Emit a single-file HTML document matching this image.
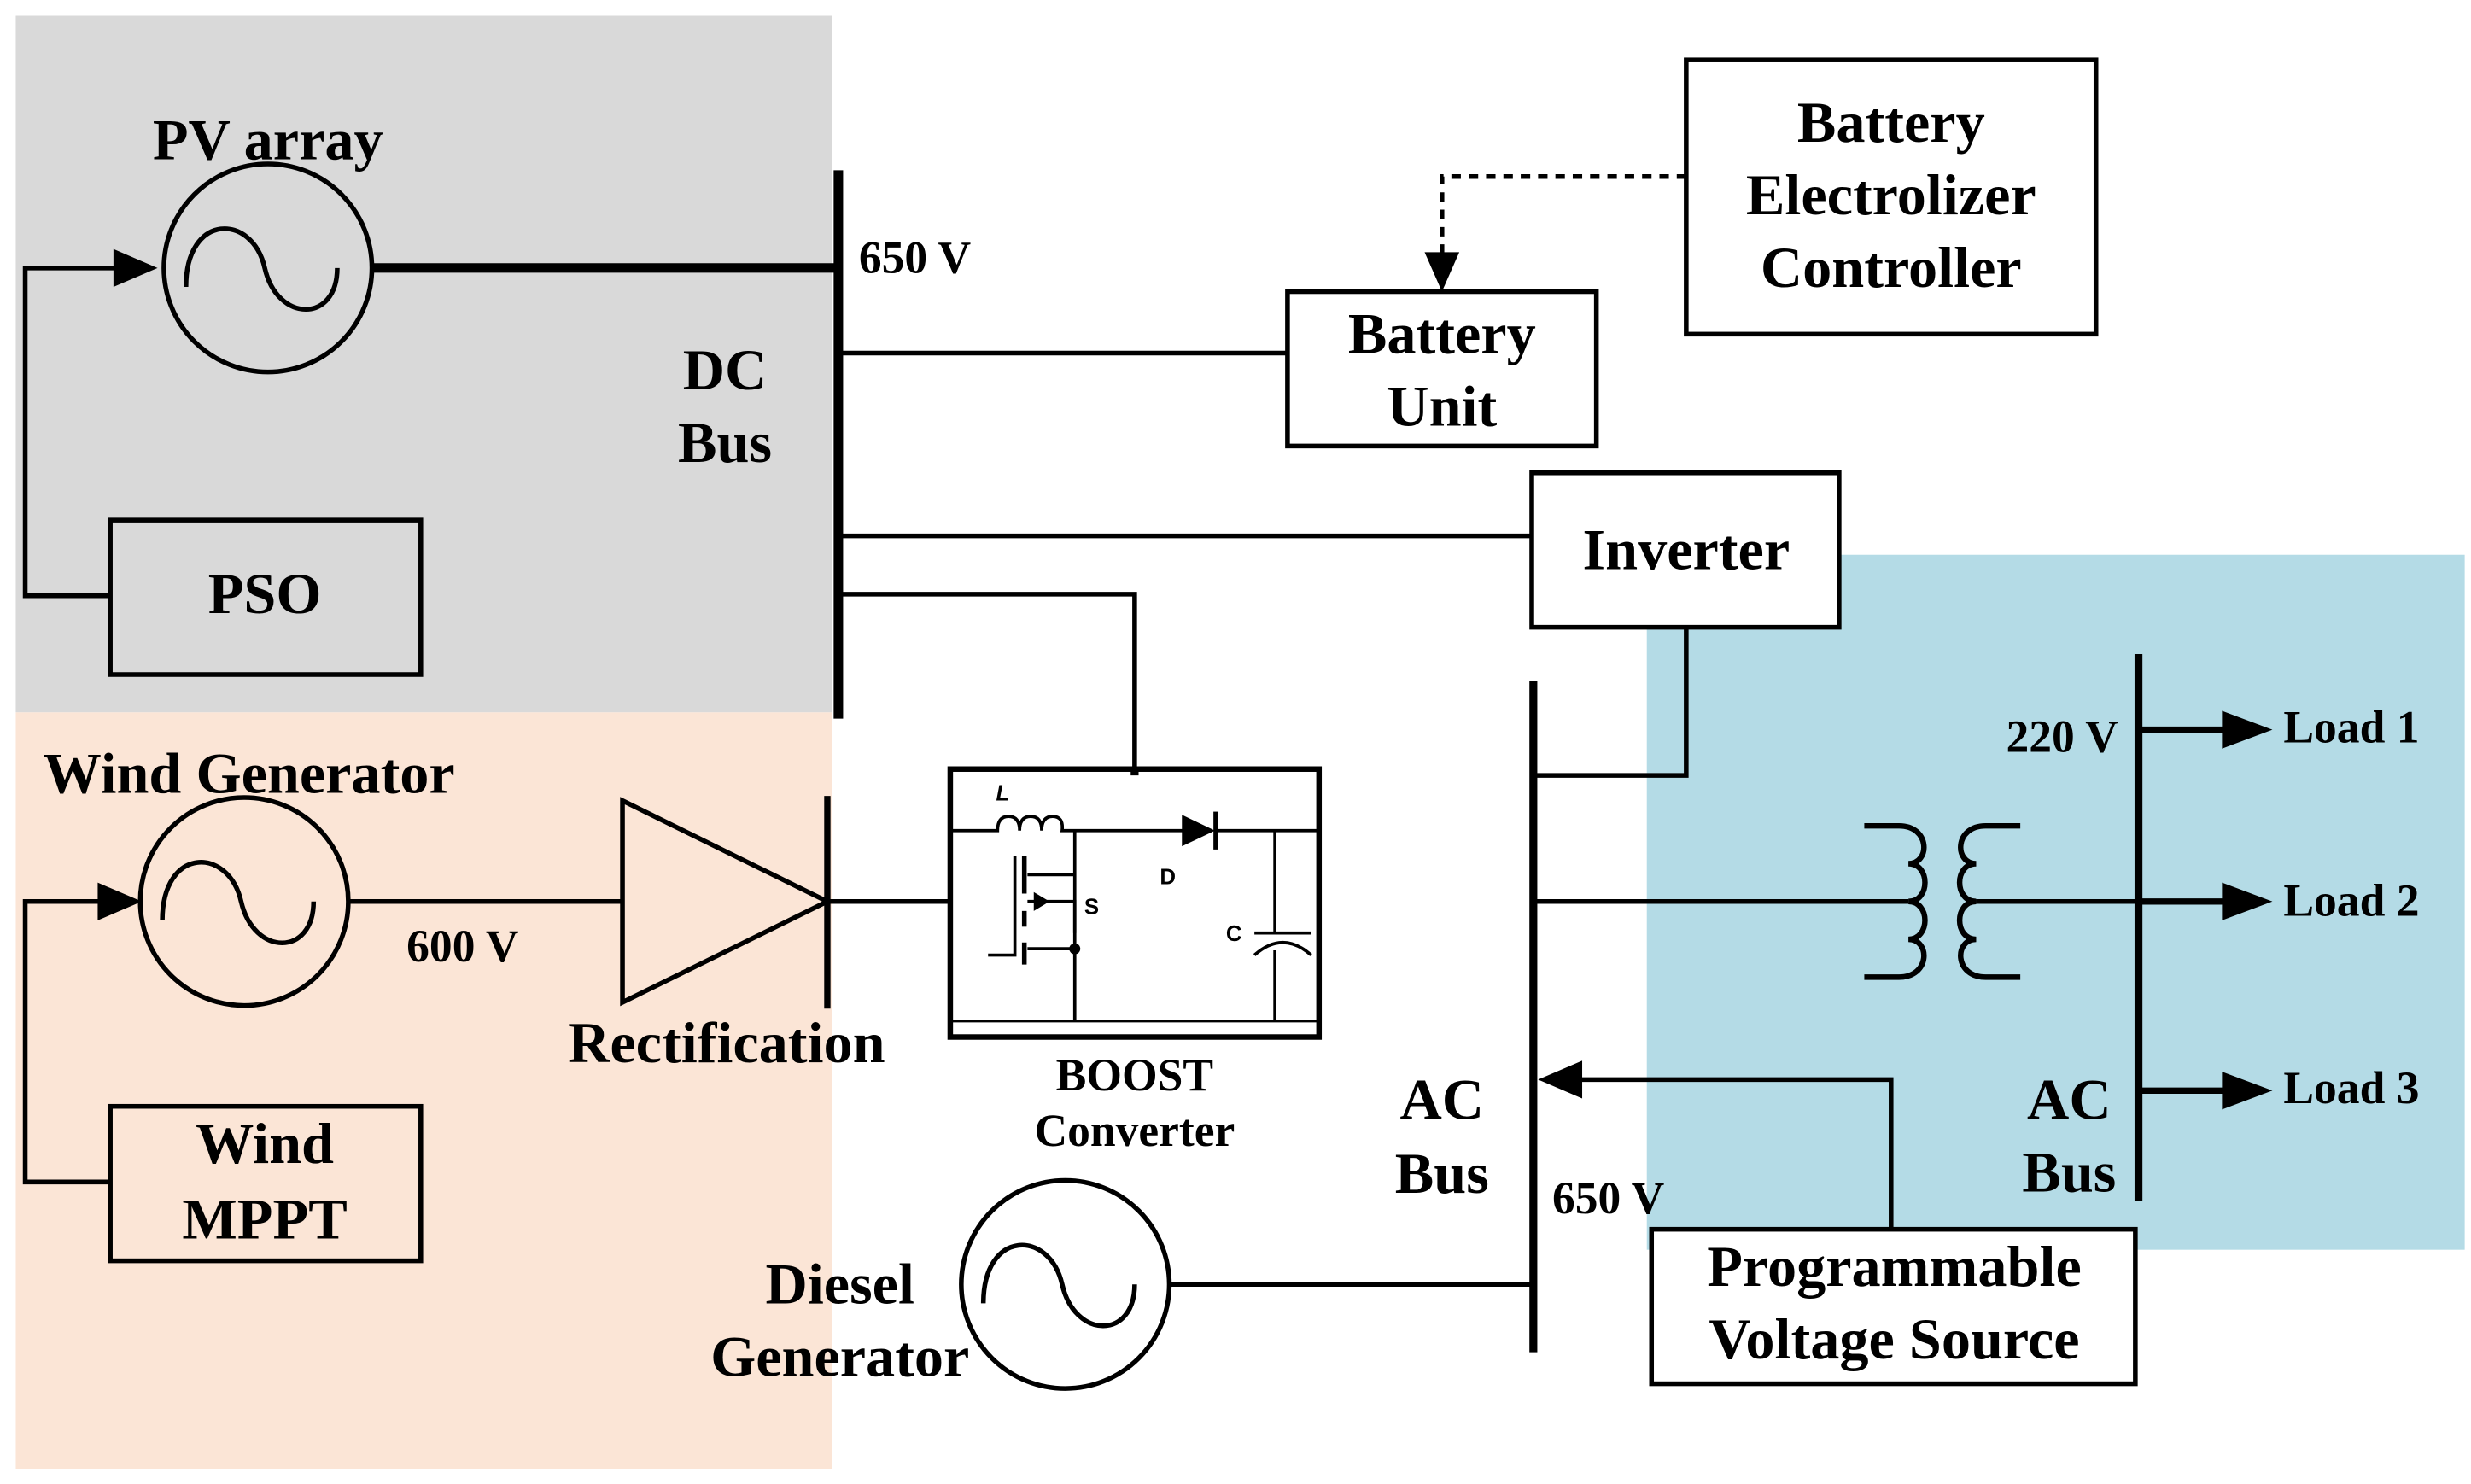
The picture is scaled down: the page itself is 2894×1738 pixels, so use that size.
<!DOCTYPE html>
<html><head><meta charset="utf-8"><style>html,body{margin:0;padding:0;background:#fff}svg{display:block}</style></head>
<body>
<svg xmlns="http://www.w3.org/2000/svg" width="2894" height="1738" viewBox="0 0 1568 941.6" font-family="Liberation Serif, serif" font-weight="bold">
<rect width="1568" height="941.6" fill="#fff"/>
<rect x="10" y="10" width="518" height="442" fill="#d9d9d9"/>
<rect x="10" y="452" width="518" height="480" fill="#fbe5d6"/>
<rect x="1045" y="352" width="519" height="441" fill="#b4dbe6"/>

<g fill="none" stroke="#000" stroke-width="3">
<!-- PV -->
<circle cx="170" cy="170" r="66" fill="#d9d9d9"/>
<path d="M118,182 C118,135 160,135 168,170 C176,205 214,205 214,170"/>
<line x1="236" y1="170" x2="532" y2="170" stroke-width="6"/>
<line x1="532" y1="108" x2="532" y2="456" stroke-width="6"/>
<rect x="70" y="330" width="197" height="98"/>
<polyline points="70,378 16,378 16,170 75,170"/>
<!-- battery -->
<line x1="532" y1="224" x2="817" y2="224"/>
<rect x="817" y="185" width="196" height="98" fill="#fff"/>
<rect x="1070" y="38" width="260" height="174" fill="#fff"/>
<polyline points="1070,112 915,112 915,165" stroke-dasharray="6,5"/>
<!-- inverter -->
<line x1="532" y1="340" x2="972" y2="340"/>
<polyline points="1070,398 1070,492 975,492"/>
<rect x="972" y="300" width="195" height="98" fill="#fff"/>
<polyline points="532,377 720,377 720,488"/>
<!-- boost -->
<rect x="603" y="488" width="234" height="170" stroke-width="3.5" fill="#fff"/>
<line x1="604" y1="648" x2="836" y2="648" stroke-width="1.5"/>
<line x1="720" y1="488" x2="720" y2="492" stroke-width="5"/>
<path d="M604,527 H633 q0,-9 7,-9 q7,0 7,9 q0,-9 7,-9 q7,0 7,9 q0,-9 7,-9 q7,0 6,9 H758 M772,527 H836" stroke-width="2"/>
<line x1="682" y1="527" x2="682" y2="648" stroke-width="2"/>
<polyline points="682,555 652,555" stroke-width="2"/>
<polyline points="682,592 682,572 652,572" stroke-width="2"/>
<polyline points="682,602 652,602" stroke-width="2"/>
<line x1="650" y1="543" x2="650" y2="567" stroke-width="3"/>
<line x1="650" y1="578" x2="650" y2="588" stroke-width="3"/>
<line x1="650" y1="598" x2="650" y2="612" stroke-width="3"/>
<polyline points="644,543 644,606 627,606" stroke-width="2"/>
<line x1="809" y1="527" x2="809" y2="592" stroke-width="2"/>
<line x1="809" y1="603" x2="809" y2="648" stroke-width="2"/>
<line x1="796" y1="592" x2="832" y2="592" stroke-width="2"/>
<path d="M796,606 Q814,590 832,606" stroke-width="2"/>
<!-- wind -->
<circle cx="155" cy="572" r="66"/>
<path d="M103,584 C103,537 145,537 153,572 C161,607 199,607 199,572"/>
<line x1="221" y1="572" x2="395" y2="572"/>
<polygon points="395,508 525,572 395,636"/>
<line x1="525" y1="505" x2="525" y2="640" stroke-width="4"/>
<line x1="525" y1="572" x2="603" y2="572"/>
<rect x="70" y="702" width="197" height="98"/>
<polyline points="70,750 16,750 16,572 65,572"/>
<!-- AC bus -->
<line x1="973" y1="432" x2="973" y2="858" stroke-width="5"/>
<line x1="973" y1="572" x2="1211" y2="572"/>
<line x1="1254" y1="572" x2="1357" y2="572"/>
<path d="M1183,524 H1205 C1225,524 1225,548 1211,548 C1225,548 1225,572 1211,572 C1225,572 1225,596 1211,596 C1225,596 1225,620 1205,620 H1183" stroke-width="3.5"/>
<path d="M1282,524 H1260 C1240,524 1240,548 1254,548 C1240,548 1240,572 1254,572 C1240,572 1240,596 1254,596 C1240,596 1240,620 1260,620 H1282" stroke-width="3.5"/>
<line x1="1357" y1="415" x2="1357" y2="762" stroke-width="5"/>
<line x1="1357" y1="463" x2="1415" y2="463" stroke-width="4"/>
<line x1="1357" y1="572" x2="1415" y2="572" stroke-width="4"/>
<line x1="1357" y1="692" x2="1415" y2="692" stroke-width="4"/>
<!-- diesel -->
<circle cx="676" cy="815" r="66"/>
<path d="M624,827 C624,780 666,780 674,815 C682,850 720,850 720,815"/>
<line x1="742" y1="815" x2="973" y2="815"/>
<polyline points="1200,780 1200,685 1000,685"/>
<rect x="1048" y="780" width="307" height="98" fill="#fff"/>
</g>
<g fill="#000">
<polygon points="100,170 72,158 72,182"/>
<polygon points="90,572 62,560 62,584"/>
<polygon points="915,185 904,160 926,160"/>
<polygon points="976,685 1004,673 1004,697"/>
<polygon points="1442,463 1410,451 1410,475"/>
<polygon points="1442,572 1410,560 1410,584"/>
<polygon points="1442,692 1410,680 1410,704"/>
<polygon points="750,517 771,527 750,537"/>
<rect x="770" y="515" width="3" height="24"/>
<polygon points="666,572 656,566 656,578"/>
<circle cx="682" cy="602" r="3.5"/>
</g>
<g text-anchor="middle" font-size="37">
<text x="170" y="101">PV array</text>
<text x="460" y="247">DC</text>
<text x="460" y="293">Bus</text>
<text x="168" y="389">PSO</text>
<text x="915" y="224">Battery</text>
<text x="915" y="270">Unit</text>
<text x="1200" y="90">Battery</text>
<text x="1200" y="136">Electrolizer</text>
<text x="1200" y="182">Controller</text>
<text x="1070" y="361">Inverter</text>
<text x="158" y="503">Wind Generator</text>
<text x="461" y="674">Rectification</text>
<text x="168" y="738">Wind</text>
<text x="168" y="786">MPPT</text>
<text x="915" y="710">AC</text>
<text x="915" y="757">Bus</text>
<text x="1313" y="710">AC</text>
<text x="1313" y="756">Bus</text>
<text x="533" y="827">Diesel</text>
<text x="533" y="873">Generator</text>
<text x="1202" y="816">Programmable</text>
<text x="1202" y="862">Voltage Source</text>
</g>
<g font-size="29">
<text x="545" y="173">650 V</text>
<text x="258" y="610">600 V</text>
<text x="1273" y="477">220 V</text>
<text x="985" y="770">650 V</text>
<text x="1449" y="471">Load 1</text>
<text x="1449" y="581">Load 2</text>
<text x="1449" y="700">Load 3</text>
<text x="720" y="692" text-anchor="middle">BOOST</text>
<text x="720" y="727" text-anchor="middle">Converter</text>
</g>
<g font-family="Liberation Sans, sans-serif" font-size="14">
<text x="632" y="508" font-style="italic">L</text>
<text x="688" y="580">S</text>
<text x="736" y="561">D</text>
<text x="778" y="597">C</text>
</g>
</svg>
</body></html>
